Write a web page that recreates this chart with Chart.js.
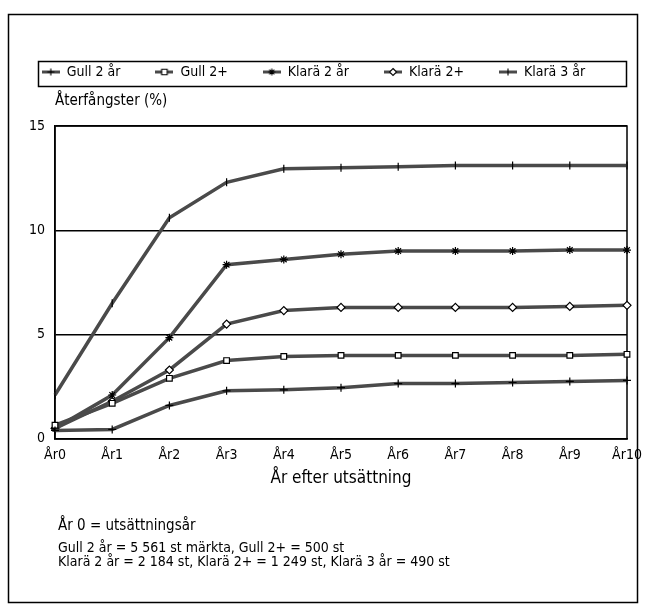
<!DOCTYPE html>
<html><head><meta charset="utf-8">
<script src="https://cdn.jsdelivr.net/npm/chart.js@4/dist/chart.umd.min.js"></script>
<style>html,body{margin:0;padding:0;background:#fff}</style>
</head><body>
<canvas id="c" width="651" height="610"></canvas>
<script>
// ---- data ----
const categories = ['År0','År1','År2','År3','År4','År5','År6','År7','År8','År9','År10'];
const seriesNames = ['Gull 2 år','Gull 2+','Klarä 2 år','Klarä 2+','Klarä 3 år'];
const gull2ar    = [0.4, 0.45, 1.6, 2.3, 2.35, 2.45, 2.65, 2.65, 2.7, 2.75, 2.8];
const gull2plus  = [0.65, 1.7, 2.9, 3.75, 3.95, 4.0, 4.0, 4.0, 4.0, 4.0, 4.05];
const klara2ar   = [0.5, 2.1, 4.85, 8.35, 8.6, 8.85, 9.0, 9.0, 9.0, 9.05, 9.05];
const klara2plus = [0.5, 1.8, 3.3, 5.5, 6.15, 6.3, 6.3, 6.3, 6.3, 6.35, 6.4];
const klara3ar   = [2.1, 6.5, 10.6, 12.3, 12.95, 13.0, 13.05, 13.1, 13.1, 13.1, 13.1];
const yTickValues = [0, 5, 10, 15];
const yAxisTitle = 'Återfångster (%)';
const xAxisTitle = 'År efter utsättning';
const notes = [
  'År 0 = utsättningsår',
  'Gull 2 år = 5 561 st märkta, Gull 2+ = 500 st',
  'Klarä 2 år = 2 184 st, Klarä 2+ = 1 249 st, Klarä 3 år = 490 st'
];

// ---- styling ----
const FONT = "'Liberation Sans Narrow','DejaVu Sans Condensed','Arial Narrow','Liberation Sans',sans-serif";
Chart.defaults.font.family = FONT;
Chart.defaults.color = '#000';
const LINE = '#4a4a4a';
const markers = [
  {style:'cross', rot:0},
  {style:'rect', rot:0},
  {style:'star', rot:0},
  {style:'rectRot', rot:0},
  {style:'line', rot:90}
];
const seriesData = [gull2ar, gull2plus, klara2ar, klara2plus, klara3ar];

function drawMarker(g, style, x, y, r){
  g.beginPath();
  if (style === 'rect'){ g.rect(x-r*0.8, y-r*0.8, r*1.6, r*1.6); g.fill(); g.stroke(); }
  else if (style === 'rectRot'){ g.moveTo(x, y-r); g.lineTo(x+r, y); g.lineTo(x, y+r); g.lineTo(x-r, y); g.closePath(); g.fill(); g.stroke(); }
  else if (style === 'cross'){ g.moveTo(x, y-r); g.lineTo(x, y+r); g.moveTo(x-r, y); g.lineTo(x+r, y); g.stroke(); }
  else if (style === 'star'){ g.moveTo(x, y-r); g.lineTo(x, y+r); g.moveTo(x-r, y); g.lineTo(x+r, y); g.moveTo(x-r*0.7, y-r*0.7); g.lineTo(x+r*0.7, y+r*0.7); g.moveTo(x+r*0.7, y-r*0.7); g.lineTo(x-r*0.7, y+r*0.7); g.stroke(); }
  else { g.moveTo(x, y-r); g.lineTo(x, y+r); g.stroke(); }
}
function legendImg(style){
  const c = document.createElement('canvas'); c.width = 18; c.height = 10;
  const g = c.getContext('2d');
  g.strokeStyle = LINE; g.lineWidth = 3;
  g.beginPath(); g.moveTo(0,5); g.lineTo(18,5); g.stroke();
  g.fillStyle = '#fff'; g.strokeStyle = '#000'; g.lineWidth = 1.1;
  drawMarker(g, style, 9, 5, 3.5);
  return c;
}
const legendImgs = markers.map(m => legendImg(m.style));

const framePlugin = {
  id: 'frames',
  beforeDatasetsDraw(chart){
    const {ctx, chartArea:a} = chart;
    ctx.save();
    ctx.strokeStyle = '#000'; ctx.lineWidth = 1.5;
    ctx.strokeRect(a.left, a.top, a.right - a.left, a.bottom - a.top);
    ctx.restore();
  },
  afterDraw(chart){
    const {ctx, chartArea:a} = chart;
    ctx.save();
    ctx.strokeStyle = '#000'; ctx.lineWidth = 1.5;
    ctx.strokeRect(8.5, 14.5, 629, 588);
    ctx.strokeRect(38.5, 61.5, 588, 25);
    ctx.fillStyle = '#000';
    ctx.textBaseline = 'middle'; ctx.textAlign = 'left';
    const x = a.left + 3, b = a.bottom;
    ctx.font = '15px ' + FONT;
    ctx.fillText(notes[0], x, b + 87);
    ctx.font = '14px ' + FONT;
    ctx.fillText(notes[1], x, b + 110);
    ctx.fillText(notes[2], x, b + 124);
    ctx.restore();
  }
};

new Chart(document.getElementById('c'), {
  type: 'line',
  data: {
    labels: categories,
    datasets: seriesNames.map((name, i) => ({
      label: name,
      data: seriesData[i],
      borderColor: LINE,
      borderWidth: 3.5,
      tension: 0,
      pointStyle: markers[i].style,
      rotation: markers[i].rot,
      pointRadius: 4,
      pointBorderWidth: 1.2,
      pointBackgroundColor: '#fff',
      pointBorderColor: '#000'
    }))
  },
  options: {
    responsive: false,
    animation: false,
    devicePixelRatio: 1,
    layout: { padding: { left: 0, right: 24, top: 30, bottom: 121 } },
    plugins: {
      legend: {
        position: 'top',
        maxHeight: 57,
        labels: {
          usePointStyle: true,
          pointStyleWidth: 18,
          padding: 35,
          font: { size: 14 },
          color: '#000',
          generateLabels: (chart) => chart.data.datasets.map((d, i) => ({
            text: d.label, pointStyle: legendImgs[i], fillStyle: '#fff', strokeStyle: '#000',
            lineWidth: 0, hidden: false, datasetIndex: i, fontColor: '#000'
          }))
        }
      },
      title: {
        display: true, text: yAxisTitle, position: 'top', align: 'start',
        fullSize: false, weight: 500,
        font: { size: 15, weight: 'normal' }, padding: { top: 5, bottom: 16 }
      },
      tooltip: { enabled: false }
    },
    scales: {
      x: {
        grid: { display: false, drawTicks: false },
        border: { display: true, color: '#000', width: 1.5 },
        ticks: { font: { size: 14 }, padding: 8, color: '#000', maxRotation: 0 },
        title: { display: true, text: xAxisTitle, font: { size: 17 }, padding: { top: -3, bottom: 0 }, color: '#000' }
      },
      y: {
        min: 0, max: 15,
        afterFit: (s) => { s.width = 55; },
        afterBuildTicks: (s) => { s.ticks = yTickValues.map(v => ({ value: v })); },
        grid: { color: '#000', lineWidth: 1.5, drawTicks: false },
        border: { display: true, color: '#000', width: 1.5 },
        ticks: { font: { size: 14 }, crossAlign: 'near', padding: 10, color: '#000' }
      }
    }
  },
  plugins: [framePlugin]
});
</script>
</body></html>
